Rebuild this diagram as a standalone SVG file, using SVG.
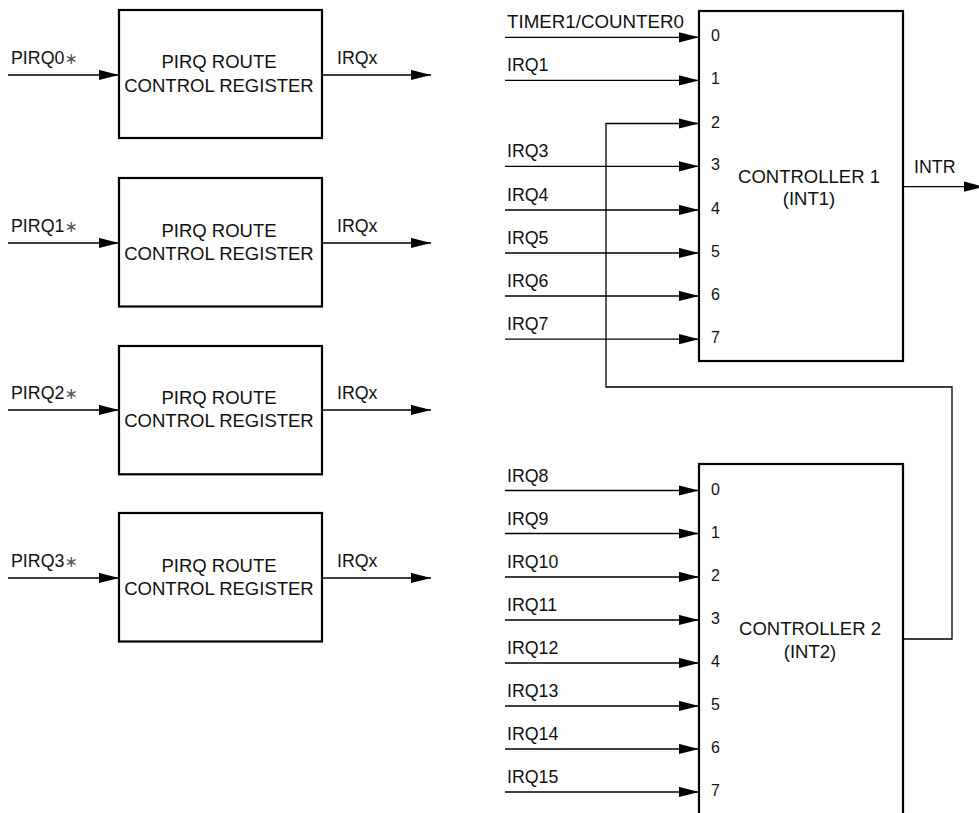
<svg xmlns="http://www.w3.org/2000/svg" width="979" height="813" viewBox="0 0 979 813">
<style>
  text { font-family: "Liberation Sans", Arial, "DejaVu Sans", sans-serif; fill: #111; }
  .lbl { font-size: 17.8px; }
  .box { font-size: 18.5px; text-anchor: middle; }
  .pin { font-size: 16px; }
  .star { fill: #555; font-size: 16px; }
  .blk { fill: none; stroke: #000; stroke-width: 2.2; }
  .wire { fill: none; stroke: #000; stroke-width: 1.3; }
</style>
<defs>
  <marker id="arr" markerUnits="userSpaceOnUse" markerWidth="21" markerHeight="11" refX="20.5" refY="5.25" orient="auto">
    <path d="M0,0 L20.5,5.25 L0,10.5 z" fill="#000"/>
  </marker>
</defs>
<rect width="979" height="813" fill="#fff"/>

<g id="connectors">
  <line class="wire" x1="8" y1="75" x2="119" y2="75" marker-end="url(#arr)"/>
  <line class="wire" x1="322" y1="75" x2="431" y2="75" marker-end="url(#arr)"/>
  <line class="wire" x1="8" y1="243" x2="119" y2="243" marker-end="url(#arr)"/>
  <line class="wire" x1="322" y1="243" x2="431" y2="243" marker-end="url(#arr)"/>
  <line class="wire" x1="8" y1="410" x2="119" y2="410" marker-end="url(#arr)"/>
  <line class="wire" x1="322" y1="410" x2="431" y2="410" marker-end="url(#arr)"/>
  <line class="wire" x1="8" y1="578" x2="119" y2="578" marker-end="url(#arr)"/>
  <line class="wire" x1="322" y1="578" x2="431" y2="578" marker-end="url(#arr)"/>

  <line class="wire" x1="505" y1="37.3" x2="699" y2="37.3" marker-end="url(#arr)"/>
  <line class="wire" x1="505" y1="80.4" x2="699" y2="80.4" marker-end="url(#arr)"/>
  <path class="wire" d="M903,639 H952 V387 H606 V123.5 H699" marker-end="url(#arr)"/>
  <line class="wire" x1="505" y1="166.3" x2="699" y2="166.3" marker-end="url(#arr)"/>
  <line class="wire" x1="505" y1="210" x2="699" y2="210" marker-end="url(#arr)"/>
  <line class="wire" x1="505" y1="253" x2="699" y2="253" marker-end="url(#arr)"/>
  <line class="wire" x1="505" y1="296" x2="699" y2="296" marker-end="url(#arr)"/>
  <line class="wire" x1="505" y1="339.2" x2="699" y2="339.2" marker-end="url(#arr)"/>
  <line class="wire" x1="903" y1="186.7" x2="984" y2="186.7" marker-end="url(#arr)"/>

  <line class="wire" x1="505" y1="490.5" x2="699" y2="490.5" marker-end="url(#arr)"/>
  <line class="wire" x1="505" y1="533.5" x2="699" y2="533.5" marker-end="url(#arr)"/>
  <line class="wire" x1="505" y1="577" x2="699" y2="577" marker-end="url(#arr)"/>
  <line class="wire" x1="505" y1="620" x2="699" y2="620" marker-end="url(#arr)"/>
  <line class="wire" x1="505" y1="663" x2="699" y2="663" marker-end="url(#arr)"/>
  <line class="wire" x1="505" y1="706" x2="699" y2="706" marker-end="url(#arr)"/>
  <line class="wire" x1="505" y1="749" x2="699" y2="749" marker-end="url(#arr)"/>
  <line class="wire" x1="505" y1="792" x2="699" y2="792" marker-end="url(#arr)"/>
</g>

<g id="labels">
  <text class="lbl" x="11" y="64.3">PIRQ0<tspan class="star">∗</tspan></text>
  <text class="lbl" x="337" y="64.3">IRQx</text>
  <text class="lbl" x="11" y="232">PIRQ1<tspan class="star">∗</tspan></text>
  <text class="lbl" x="337" y="232">IRQx</text>
  <text class="lbl" x="11" y="399">PIRQ2<tspan class="star">∗</tspan></text>
  <text class="lbl" x="337" y="399">IRQx</text>
  <text class="lbl" x="11" y="567">PIRQ3<tspan class="star">∗</tspan></text>
  <text class="lbl" x="337" y="567">IRQx</text>

  <text class="lbl" x="507" y="28.3" textLength="177" lengthAdjust="spacingAndGlyphs">TIMER1/COUNTER0</text>
  <text class="lbl" x="507" y="71.4">IRQ1</text>
  <text class="lbl" x="507" y="157.3">IRQ3</text>
  <text class="lbl" x="507" y="201">IRQ4</text>
  <text class="lbl" x="507" y="244">IRQ5</text>
  <text class="lbl" x="507" y="287">IRQ6</text>
  <text class="lbl" x="507" y="330.2">IRQ7</text>
  <text class="lbl" x="914" y="173.3">INTR</text>

  <text class="lbl" x="507" y="481.5">IRQ8</text>
  <text class="lbl" x="507" y="524.5">IRQ9</text>
  <text class="lbl" x="507" y="568">IRQ10</text>
  <text class="lbl" x="507" y="611">IRQ11</text>
  <text class="lbl" x="507" y="654">IRQ12</text>
  <text class="lbl" x="507" y="697">IRQ13</text>
  <text class="lbl" x="507" y="740">IRQ14</text>
  <text class="lbl" x="507" y="783">IRQ15</text>
</g>

<g id="pirq-route-0">
  <rect class="blk" x="119" y="10" width="203" height="128"/>
  <text class="box" x="219" y="68.3">PIRQ ROUTE</text>
  <text class="box" x="219" y="91.7">CONTROL REGISTER</text>
</g>
<g id="pirq-route-1">
  <rect class="blk" x="119" y="178" width="203" height="128.5"/>
  <text class="box" x="219" y="236.5">PIRQ ROUTE</text>
  <text class="box" x="219" y="259.5">CONTROL REGISTER</text>
</g>
<g id="pirq-route-2">
  <rect class="blk" x="119" y="346" width="203" height="128.3"/>
  <text class="box" x="219" y="403.5">PIRQ ROUTE</text>
  <text class="box" x="219" y="426.5">CONTROL REGISTER</text>
</g>
<g id="pirq-route-3">
  <rect class="blk" x="119" y="513" width="203" height="128.5"/>
  <text class="box" x="219" y="571.5">PIRQ ROUTE</text>
  <text class="box" x="219" y="594.5">CONTROL REGISTER</text>
</g>

<g id="controller-1">
  <rect class="blk" x="699" y="11" width="204" height="350"/>
  <text class="pin" x="711" y="41.3">0</text>
  <text class="pin" x="711" y="84.4">1</text>
  <text class="pin" x="711" y="127.5">2</text>
  <text class="pin" x="711" y="170.3">3</text>
  <text class="pin" x="711" y="214">4</text>
  <text class="pin" x="711" y="257">5</text>
  <text class="pin" x="711" y="300">6</text>
  <text class="pin" x="711" y="343.2">7</text>
  <text class="box" x="809" y="182.7">CONTROLLER 1</text>
  <text class="box" x="809" y="205">(INT1)</text>
</g>

<g id="controller-2">
  <rect class="blk" x="699" y="464" width="204" height="370"/>
  <text class="pin" x="711" y="494.5">0</text>
  <text class="pin" x="711" y="537.5">1</text>
  <text class="pin" x="711" y="581">2</text>
  <text class="pin" x="711" y="624">3</text>
  <text class="pin" x="711" y="667.3">4</text>
  <text class="pin" x="711" y="710.3">5</text>
  <text class="pin" x="711" y="753.3">6</text>
  <text class="pin" x="711" y="796.3">7</text>
  <text class="box" x="810" y="635">CONTROLLER 2</text>
  <text class="box" x="810" y="658">(INT2)</text>
</g>
</svg>
